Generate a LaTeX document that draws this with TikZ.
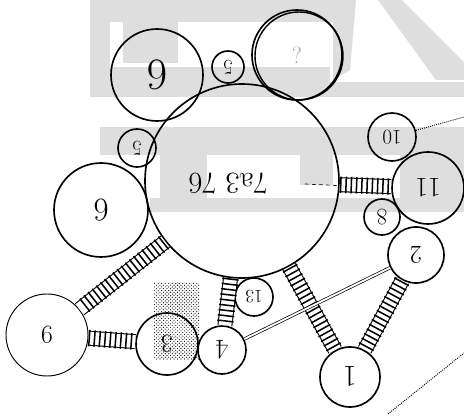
\documentclass[tikz,border=0pt]{standalone}
\usetikzlibrary{patterns,decorations.markings}
\tikzset{
  blob/.style={circle,draw,line width=1.4pt,inner sep=0pt},
  upside/.style={rotate=180},
  ladder/.style={line width=0.9pt,double=white,double distance=11pt,
    postaction={decorate,decoration={markings,
      mark=between positions 0.02 and 0.98 step 4.5pt with {\draw[line width=1.3pt] (0,-7pt) -- (0,7pt);}}}},
  wm/.style={fill=black!13,draw=none},
}
\newcommand{\fs}[1]{\fontsize{#1}{#1}\selectfont}
\begin{document}
\begin{tikzpicture}[x=0.03cm,y=-0.03cm]
\useasboundingbox (0,0) rectangle (464,417);

\fill[wm] (90,0) rectangle (333,22);
\fill[wm] (90,0) rectangle (110,97);
\fill[wm] (123,22) rectangle (178,63);
\fill[wm] (90,67) rectangle (330,97);
\fill[wm] (330,82) rectangle (464,97);
\fill[wm] (333,0) -- (356,0) -- (350,70) -- (333,80) -- cycle;
\fill[wm] (378,0) -- (402,0) -- (464,62) -- (464,80) -- (436,80) -- cycle;
\fill[wm] (100,127) rectangle (464,155);
\fill[wm] (160,155) rectangle (207,205);
\fill[wm] (300,155) rectangle (333,185);
\fill[wm] (400,155) rectangle (464,205);
\fill[wm] (150,198) rectangle (464,212);

\fill[pattern=crosshatch dots] (154,282) rectangle (199,359);

\node[blob,minimum size=5.82cm] (c7) at (242,181) {};
\node[upside,font=\fs{26}] (t7) at (228,184) {7a3 76};

\node[blob,upside,minimum size=2.76cm,font=\fs{38}] (c6a) at (157,75) {6};
\node[blob,upside,minimum size=0.96cm,font=\fs{18}] (c5a) at (228,67) {5};
\node[blob,minimum size=2.7cm,font=\fs{20},text=black!35] (cq) at (297,55) {?};
\draw[line width=1.2pt] (cq.center) ++(2,1) circle[radius=44];
\node[blob,upside,minimum size=1.14cm,font=\fs{18}] (c5b) at (137,148) {5};
\node[blob,upside,minimum size=2.82cm,font=\fs{28}] (c6b) at (101,210) {6};
\node[blob,upside,minimum size=2.46cm,font=\fs{22},line width=0.8pt] (c9) at (47,335) {9};
\node[blob,upside,minimum size=1.86cm,font=\fs{22}] (c3) at (167,344) {3};
\node[blob,upside,minimum size=1.44cm,font=\fs{24}] (c4) at (222,350) {4};
\node[blob,upside,minimum size=1.14cm,font=\fs{16}] (c13) at (254,297) {13};
\node[blob,upside,minimum size=1.8cm,font=\fs{26}] (c1) at (350,377) {1};
\node[blob,upside,minimum size=1.68cm,font=\fs{22}] (c2) at (416,255) {2};
\node[blob,upside,minimum size=1.08cm,font=\fs{20}] (c8) at (382,217) {8};
\node[blob,upside,minimum size=2.16cm,font=\fs{24}] (c11) at (428,188) {11};
\node[blob,upside,minimum size=1.44cm,font=\fs{18}] (c10) at (392,137) {10};

\coordinate (dd) at (305,184);
\coordinate (e10) at (464,117);
\coordinate (b1) at (388,414);
\coordinate (b2) at (464,353);

\draw[ladder] (c7) -- (c11);
\draw[ladder] (c7) -- (c9);
\draw[ladder] (c9) -- (c3);
\draw[ladder] (c7) -- (c4);
\draw[ladder] (c7) -- (c1);
\draw[ladder] (c2) -- (c1);

\draw[double,double distance=1.6pt,line width=0.6pt] (c4) -- (c2);
\draw[dashed,line width=0.6pt] (dd) -- (c7);
\draw[densely dotted,line width=0.8pt] (c10) -- (e10);
\draw[densely dotted,line width=0.8pt] (b1) -- (b2);
\end{tikzpicture}
\end{document}
